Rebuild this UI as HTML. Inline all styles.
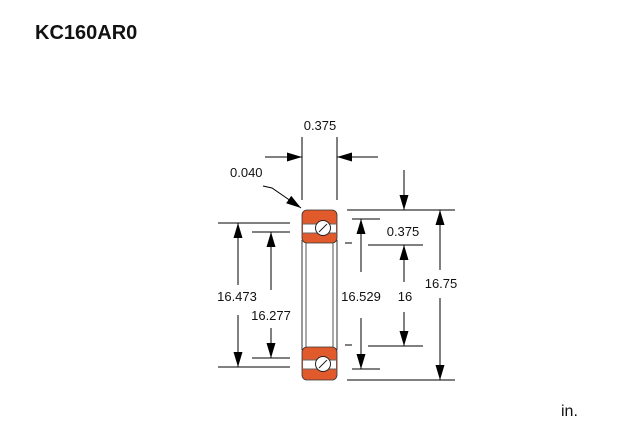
<!DOCTYPE html>
<html><head><style>
body{margin:0;width:640px;height:440px;background:#fff;overflow:hidden}
svg{position:absolute;left:0;top:0}
text{font-family:"Liberation Sans",Arial,sans-serif;fill:#111}
</style></head><body>
<svg width="640" height="440" viewBox="0 0 640 440">
<defs>
<marker id="a" viewBox="0 0 15 9" refX="15" refY="4.5" markerWidth="15" markerHeight="9" markerUnits="userSpaceOnUse" orient="auto"><path d="M0,0L15,4.5L0,9z" fill="#000"/></marker>
</defs>
<text x="35" y="39" font-size="20" font-weight="bold">KC160AR0</text>
<text x="561" y="416" font-size="16">in.</text>
<g stroke="#000" stroke-width="1" fill="none">
<line x1="302" y1="137" x2="302" y2="200"/><line x1="337" y1="137" x2="337" y2="200"/>
<line x1="265" y1="157" x2="302" y2="157" marker-end="url(#a)"/>
<line x1="378" y1="157" x2="337" y2="157" marker-end="url(#a)"/>
<path d="M263,186 L272,188 L301,208" marker-end="url(#a)"/>
<line x1="218" y1="223" x2="290" y2="223"/><line x1="218" y1="367" x2="290" y2="367"/>
<line x1="238" y1="285" x2="238" y2="223" marker-end="url(#a)"/>
<line x1="238" y1="315" x2="238" y2="367" marker-end="url(#a)"/>
<line x1="252" y1="232" x2="290" y2="232"/><line x1="252" y1="358" x2="290" y2="358"/>
<line x1="271" y1="290" x2="271" y2="232" marker-end="url(#a)"/>
<line x1="271" y1="328" x2="271" y2="358" marker-end="url(#a)"/>
<line x1="352" y1="219" x2="380" y2="219"/><line x1="352" y1="369" x2="380" y2="369"/>
<line x1="345" y1="243" x2="352" y2="243"/><line x1="345" y1="345" x2="352" y2="345"/>
<line x1="361" y1="272" x2="361" y2="219" marker-end="url(#a)"/>
<line x1="361" y1="318" x2="361" y2="369" marker-end="url(#a)"/>
<line x1="368" y1="245" x2="423" y2="245"/><line x1="368" y1="346" x2="423" y2="346"/>
<line x1="404" y1="282" x2="404" y2="245" marker-end="url(#a)"/>
<line x1="404" y1="312" x2="404" y2="346" marker-end="url(#a)"/>
<line x1="404" y1="170" x2="404" y2="210" marker-end="url(#a)"/>
<line x1="347" y1="210" x2="455" y2="210"/><line x1="347" y1="380" x2="455" y2="380"/>
<line x1="440" y1="270" x2="440" y2="210" marker-end="url(#a)"/>
<line x1="440" y1="298" x2="440" y2="380" marker-end="url(#a)"/>
</g>
<g stroke="#555" stroke-width="1">
<line x1="306" y1="240" x2="306" y2="350"/><line x1="333" y1="240" x2="333" y2="350"/>
<line x1="302" y1="240" x2="302" y2="350" stroke="#333"/><line x1="337" y1="240" x2="337" y2="350" stroke="#333"/>
</g>
<g>
<rect x="302" y="210" width="35" height="33" rx="5" fill="#e05a2b" stroke="#333" stroke-width="0.8"/>
<rect x="303" y="224" width="33" height="9" fill="#fff"/>
<line x1="303" y1="224" x2="336" y2="224" stroke="#666"/><line x1="303" y1="233" x2="336" y2="233" stroke="#666"/>
<circle cx="323" cy="228" r="7.5" fill="#fff" stroke="#222" stroke-width="1"/>
<line x1="319" y1="232" x2="327" y2="224" stroke="#222" stroke-width="1"/>
<rect x="302" y="347" width="35" height="33" rx="5" fill="#e05a2b" stroke="#333" stroke-width="0.8"/>
<rect x="303" y="360" width="33" height="9" fill="#fff"/>
<line x1="303" y1="360" x2="336" y2="360" stroke="#666"/><line x1="303" y1="369" x2="336" y2="369" stroke="#666"/>
<circle cx="323" cy="364" r="7.5" fill="#fff" stroke="#222" stroke-width="1"/>
<line x1="319" y1="368" x2="327" y2="360" stroke="#222" stroke-width="1"/>
</g>
<g font-size="13">
<text x="320" y="130" text-anchor="middle">0.375</text>
<text x="230" y="177">0.040</text>
<text x="237" y="301" text-anchor="middle">16.473</text>
<text x="271" y="320" text-anchor="middle">16.277</text>
<text x="361" y="301" text-anchor="middle">16.529</text>
<text x="405" y="301" text-anchor="middle">16</text>
<text x="403" y="236" text-anchor="middle">0.375</text>
<text x="441" y="288" text-anchor="middle">16.75</text>
</g>
</svg>
</body></html>
